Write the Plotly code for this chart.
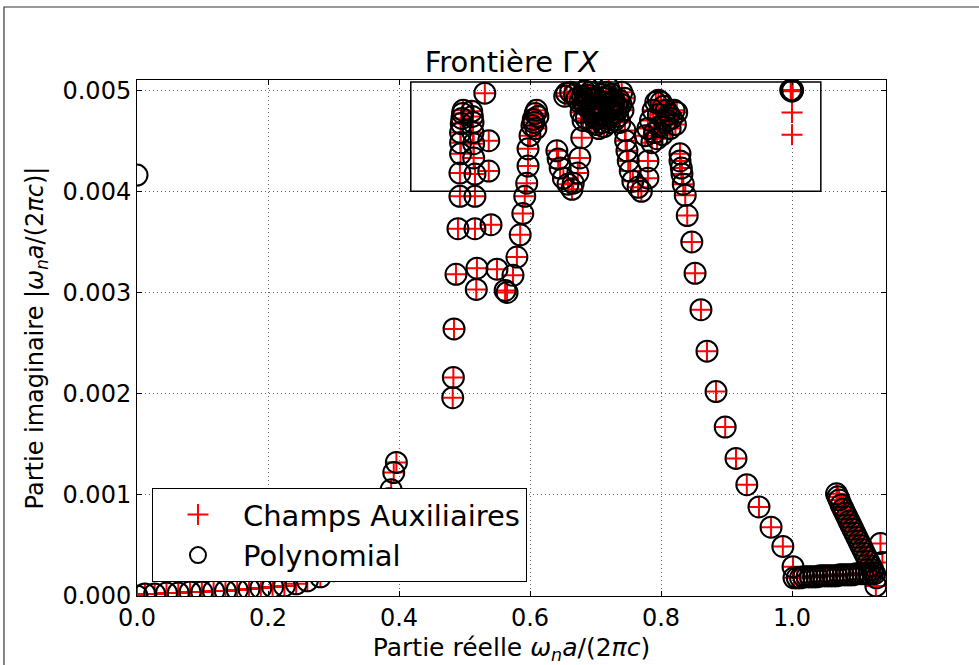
import plotly.graph_objects as go

# ---- data ----
low_x = [0.0, 0.012, 0.027, 0.045, 0.063, 0.081, 0.099, 0.117, 0.135, 0.153, 0.171, 0.189, 0.207, 0.225,
         0.243, 0.26, 0.28, 0.30, 0.32, 0.34, 0.355, 0.368, 0.378, 0.384, 0.388, 0.392, 0.396]
low_y = [0.0, 0.00002, 0.00002, 0.00003, 0.00003, 0.00004, 0.00004, 0.00005, 0.00005, 0.00006, 0.00007,
         0.00008, 0.00009, 0.0001, 0.00012, 0.00015, 0.00019, 0.00025, 0.00033, 0.00045, 0.00058, 0.00072,
         0.00085, 0.00096, 0.00105, 0.00122, 0.00132]

colA_x = [0.482, 0.483, 0.484, 0.487, 0.490, 0.493, 0.493, 0.494, 0.494, 0.494, 0.495, 0.496, 0.497, 0.498]
colA_y = [0.00196, 0.00216, 0.00264, 0.00318, 0.00363, 0.00395, 0.00418, 0.00437, 0.00448, 0.00458,
          0.00467, 0.00472, 0.00477, 0.0048]

colB_x = [0.518, 0.519, 0.516, 0.516, 0.516, 0.514, 0.514, 0.513, 0.513, 0.512, 0.511]
colB_y = [0.00303, 0.00324, 0.00363, 0.00395, 0.00417, 0.00433, 0.00447, 0.00458, 0.00468, 0.00474, 0.00479]

colC_x = [0.5496, 0.5405, 0.537, 0.537, 0.531, 0.562, 0.565]
colC_y = [0.00323, 0.00367, 0.0042, 0.0045, 0.00497, 0.00302, 0.003]

colD_x = [0.574, 0.58, 0.585, 0.589, 0.592, 0.595, 0.597, 0.597, 0.600, 0.603, 0.605, 0.608, 0.61, 0.612,
          0.606, 0.609]
colD_y = [0.00317, 0.00335, 0.00357, 0.00378, 0.00395, 0.00408, 0.00425, 0.00442, 0.00455, 0.00465,
          0.00471, 0.00477, 0.0048, 0.00474, 0.00468, 0.00462]

colE_x = [0.641, 0.643, 0.646, 0.651, 0.658, 0.664, 0.666, 0.673, 0.676, 0.679, 0.681, 0.684, 0.688, 0.656, 0.653]
colE_y = [0.0044, 0.00432, 0.00423, 0.00413, 0.00407, 0.00402, 0.00408, 0.00418, 0.00433, 0.00453,
          0.0047, 0.00485, 0.00495, 0.00497, 0.00494]

blob_x = [0.662, 0.668, 0.672, 0.676, 0.68, 0.684, 0.688, 0.692, 0.696, 0.70, 0.704, 0.708, 0.712, 0.716,
          0.72, 0.724, 0.728, 0.732, 0.736, 0.74, 0.744, 0.678, 0.686, 0.694, 0.702, 0.71, 0.718, 0.726,
          0.734, 0.742, 0.69, 0.70, 0.71, 0.72, 0.73]
blob_y = [0.00498, 0.00496, 0.00492, 0.00488, 0.00494, 0.00499, 0.00502, 0.00498, 0.00492, 0.00486,
          0.0048, 0.00484, 0.00492, 0.00498, 0.00502, 0.00496, 0.0049, 0.00484, 0.0049, 0.00498, 0.00492,
          0.00478, 0.00472, 0.00468, 0.00466, 0.00468, 0.00472, 0.00476, 0.00474, 0.0048, 0.00482,
          0.00474, 0.00476, 0.00482, 0.00478]

blob2_x = [0.683, 0.689, 0.695, 0.699, 0.703, 0.707, 0.711, 0.715, 0.719, 0.723, 0.727, 0.731, 0.735,
           0.739, 0.697, 0.705, 0.713, 0.721, 0.729, 0.737, 0.701, 0.709, 0.717, 0.725]
blob2_y = [0.00488, 0.00492, 0.00486, 0.00478, 0.00472, 0.00476, 0.00484, 0.00488, 0.00486, 0.0048,
           0.00484, 0.00478, 0.00482, 0.00486, 0.00474, 0.00462, 0.00464, 0.00468, 0.0047, 0.00468,
           0.00492, 0.00496, 0.00494, 0.00488]

colG_x = [0.745, 0.746, 0.748, 0.75, 0.753, 0.757, 0.765, 0.77, 0.78, 0.78]
colG_y = [0.0046, 0.0045, 0.0044, 0.0043, 0.0042, 0.0041, 0.00404, 0.004, 0.0043, 0.00413]

blobH_x = [0.776, 0.78, 0.784, 0.788, 0.792, 0.796, 0.80, 0.804, 0.808, 0.812, 0.816, 0.82, 0.824,
           0.79, 0.798, 0.806, 0.814, 0.822, 0.786, 0.794, 0.802, 0.796, 0.81]
blobH_y = [0.00455, 0.00462, 0.0047, 0.0048, 0.00488, 0.0049, 0.00488, 0.00484, 0.0048, 0.00476,
           0.00472, 0.0048, 0.00478, 0.00458, 0.00464, 0.00468, 0.00462, 0.00466, 0.00448, 0.00452,
           0.00456, 0.00476, 0.0047]

desc_x = [0.829, 0.829, 0.831, 0.832, 0.834, 0.837, 0.84, 0.847, 0.852, 0.861, 0.8702, 0.884, 0.898,
          0.9145, 0.931, 0.9496, 0.968, 0.986, 1.0015]
desc_y = [0.00437, 0.0043, 0.00423, 0.00417, 0.00407, 0.00396, 0.00376, 0.0035, 0.00319, 0.00283,
          0.00242, 0.00202, 0.00167, 0.00136, 0.0011, 0.00088, 0.00068, 0.00049, 0.00029]

flat_x = [1.003, 1.008, 1.013, 1.018, 1.023, 1.028, 1.033, 1.038, 1.043, 1.048, 1.053, 1.058, 1.063,
          1.068, 1.073, 1.078, 1.083, 1.088, 1.093, 1.098, 1.103, 1.108, 1.113, 1.118, 1.123]
flat_y = [0.00018, 0.00018, 0.00018, 0.00019, 0.00019, 0.00019, 0.00019, 0.00019, 0.0002, 0.0002,
          0.0002, 0.0002, 0.0002, 0.0002, 0.00021, 0.00021, 0.00021, 0.00021, 0.00021, 0.00022,
          0.00022, 0.00022, 0.00022, 0.00022, 0.00023]

diag_x = [1.068, 1.070, 1.072, 1.075, 1.078, 1.081, 1.084, 1.087, 1.090, 1.093, 1.096, 1.099, 1.102,
          1.105, 1.108, 1.111, 1.114, 1.117, 1.120, 1.123, 1.126, 1.129, 1.135, 1.138, 1.128]
diag_y = [0.00101, 0.00098, 0.00095, 0.0009, 0.00086, 0.00082, 0.00078, 0.00074, 0.0007, 0.00066,
          0.00062, 0.00058, 0.00054, 0.0005, 0.00046, 0.00042, 0.00038, 0.00034, 0.0003, 0.00026,
          0.00022, 0.00018, 0.00052, 0.00033, 0.0001]

top_x = [0.998, 1.0, 1.001]
top_y = [0.005, 0.00499, 0.005]

aux_only_x = [1.0, 1.0]
aux_only_y = [0.00478, 0.00456]
poly_only_x = [0.0]
poly_only_y = [0.00416]

xticks = [0.0, 0.2, 0.4, 0.6, 0.8, 1.0]
yticks = [0.0, 0.001, 0.002, 0.003, 0.004, 0.005]

common_x = (low_x + colA_x + colB_x + colC_x + colD_x + colE_x + blob_x + blob2_x + colG_x + blobH_x
            + desc_x + flat_x + diag_x + top_x)
common_y = (low_y + colA_y + colB_y + colC_y + colD_y + colE_y + blob_y + blob2_y + colG_y + blobH_y
            + desc_y + flat_y + diag_y + top_y)

aux_x = common_x + aux_only_x
aux_y = common_y + aux_only_y
poly_x = common_x + poly_only_x
poly_y = common_y + poly_only_y

FONT = "DejaVu Sans"

fig = go.Figure()
fig.add_trace(go.Scatter(
    x=aux_x, y=aux_y, mode="markers", name="Champs Auxiliaires",
    marker=dict(symbol="cross-thin-open", size=15, color="red", line=dict(color="red", width=2))))
fig.add_trace(go.Scatter(
    x=poly_x, y=poly_y, mode="markers", name="Polynomial",
    marker=dict(symbol="circle-open", size=21, color="black", line=dict(color="black", width=2))))

# rectangle highlighting zoom region
fig.add_shape(type="rect", xref="x", yref="y", x0=0.418, x1=1.044, y0=0.004, y1=0.00508,
              line=dict(color="black", width=1.5), layer="above")
# figure border
fig.add_shape(type="rect", xref="paper", yref="paper", x0=-0.1776, x1=1.3, y0=-0.3, y1=1.1415,
              line=dict(color="#333333", width=1.2), layer="above")

axis_common = dict(showline=True, linecolor="black", linewidth=1, mirror="ticks", ticks="inside",
                   ticklen=5, tickcolor="black", showgrid=True, gridcolor="#666666", griddash="1px,3px",
                   gridwidth=1, zeroline=False, automargin=False,
                   tickfont=dict(family=FONT, size=24, color="black"))

fig.update_layout(
    width=979, height=665,
    margin=dict(l=137, r=93, t=80, b=69),
    paper_bgcolor="white", plot_bgcolor="white",
    font=dict(family=FONT, color="black"),
    title=dict(text="Frontière Γ<i>X</i>", x=0.5, xref="paper", xanchor="center",
               y=1 - 62 / 665, yref="container", yanchor="middle",
               font=dict(family=FONT, size=29, color="black")),
    xaxis=dict(range=[0, 1.1435], tickvals=xticks, ticktext=[f"{v:.1f}" for v in xticks],
               title=dict(text="Partie réelle <i>ω<sub>n</sub>a</i>/(2<i>πc</i>)",
                          font=dict(family=FONT, size=25), standoff=10),
               **axis_common),
    yaxis=dict(range=[0, 0.0051], tickvals=yticks, ticktext=[f"{v:.3f}" for v in yticks],
               title=dict(text="Partie imaginaire |<i>ω<sub>n</sub>a</i>/(2<i>πc</i>)|",
                          font=dict(family=FONT, size=24), standoff=12),
               **axis_common),
    legend=dict(x=0.02, y=0.027, xanchor="left", yanchor="bottom", bgcolor="white",
                bordercolor="black", borderwidth=1, font=dict(family=FONT, size=29, color="black"),
                itemwidth=80),
    showlegend=True,
)

fig.write_html("out.html", config={"displayModeBar": False},
               post_script="document.body.style.margin='0px';document.body.style.overflow='hidden';")
